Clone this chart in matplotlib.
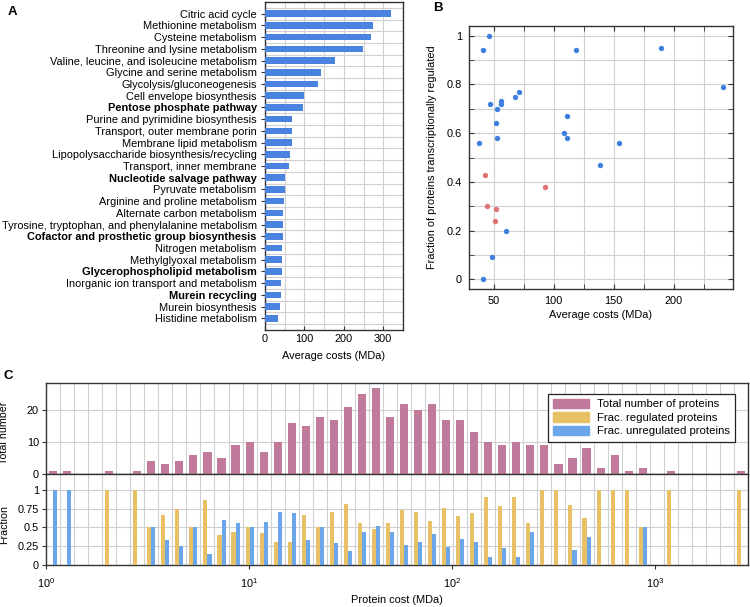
import numpy as np
import matplotlib
matplotlib.use("Agg")
import matplotlib.pyplot as plt
from matplotlib.ticker import FixedLocator, NullFormatter, MultipleLocator
from matplotlib.patches import Patch

plt.rcParams['font.family'] = ['Liberation Sans', 'DejaVu Sans']
plt.rcParams['font.size'] = 7.9

# ---------------- Panel A data ----------------
pathways = [
    "Citric acid cycle", "Methionine metabolism", "Cysteine metabolism",
    "Threonine and lysine metabolism", "Valine, leucine, and isoleucine metabolism",
    "Glycine and serine metabolism", "Glycolysis/gluconeogenesis",
    "Cell envelope biosynthesis", "Pentose phosphate pathway",
    "Purine and pyrimidine biosynthesis", "Transport, outer membrane porin",
    "Membrane lipid metabolism", "Lipopolysaccharide biosynthesis/recycling",
    "Transport, inner membrane", "Nucleotide salvage pathway",
    "Pyruvate metabolism", "Arginine and proline metabolism",
    "Alternate carbon metabolism",
    "Tyrosine, tryptophan, and phenylalanine metabolism",
    "Cofactor and prosthetic group biosynthesis", "Nitrogen metabolism",
    "Methylglyoxal metabolism", "Glycerophospholipid metabolism",
    "Inorganic ion transport and metabolism", "Murein recycling",
    "Murein biosynthesis", "Histidine metabolism",
]
avg_costs = [319, 275, 270, 249, 178, 143, 134, 100, 97, 69.5, 68, 68, 64, 62,
             51, 50, 49, 46.5, 45, 45, 42, 42, 42, 41, 40, 39, 34]
bold_pathways = ["Pentose phosphate pathway", "Nucleotide salvage pathway",
                 "Cofactor and prosthetic group biosynthesis",
                 "Glycerophospholipid metabolism", "Murein recycling"]

# ---------------- Panel B data ----------------
blue_x = [41.1, 45.8, 37.5, 47.0, 52.5, 52.2, 53.0, 56.4, 56.4, 67.5, 71.4,
          108.6, 111.4, 111.4, 118.3, 138.9, 154.4, 189.7, 241.0, 60.0, 48.6, 41.1]
blue_y = [0.94, 1.00, 0.56, 0.72, 0.70, 0.64, 0.58, 0.73, 0.72, 0.75, 0.77,
          0.60, 0.67, 0.58, 0.94, 0.47, 0.56, 0.95, 0.79, 0.20, 0.09, 0.00]
red_x = [42.8, 92.5, 44.2, 52.2, 51.4]
red_y = [0.43, 0.38, 0.30, 0.29, 0.24]

# ---------------- Panel C data ----------------
counts = [1, 1, 0, 0, 1, 0, 1, 4, 3, 4, 6, 7, 5, 9, 10, 7, 10, 16, 15, 18,
          17, 21, 25, 27, 18, 22, 20, 22, 17, 17, 13, 10, 9, 10, 9, 9, 3, 5, 8, 2,
          6, 1, 2, 0, 1, 0, 0, 0, 0, 1]
frac_reg = [0, 0, 0, 0, 1, 0, 1, 0.5, 0.67, 0.75, 0.5, 0.86, 0.4, 0.44, 0.5,
            0.43, 0.3, 0.31, 0.67, 0.5, 0.71, 0.81, 0.56, 0.48, 0.56, 0.73, 0.7,
            0.59, 0.76, 0.65, 0.69, 0.9, 0.78, 0.9, 0.56, 1, 1, 0.8, 0.63, 1,
            1, 1, 0.5, 0, 1, 0, 0, 0, 0, 1]
frac_unreg = [1, 1, 0, 0, 0, 0, 0, 0.5, 0.33, 0.25, 0.5, 0.14, 0.6, 0.56, 0.5,
              0.57, 0.7, 0.69, 0.33, 0.5, 0.29, 0.19, 0.44, 0.52, 0.44, 0.27, 0.3,
              0.41, 0.24, 0.35, 0.31, 0.1, 0.22, 0.1, 0.44, 0, 0, 0.2, 0.37, 0,
              0, 0, 0.5, 0, 0, 0, 0, 0, 0, 0]
cost_min, cost_max = 1.0, 2870.0

W, H = 750, 607
fig = plt.figure(figsize=(W / 100, H / 100), dpi=100)

def rect(l, t, r, b):
    return [l / W, 1 - b / H, (r - l) / W, (b - t) / H]

spine_c = '#333333'
grid_c = '#d0d0d0'

# ================= Panel A =================
axA = fig.add_axes(rect(265, 2, 403, 330))
ypos = np.arange(len(pathways))
axA.barh(ypos, avg_costs, height=0.55, color='#4a82e0', zorder=3)
axA.set_ylim(len(pathways), -1)
axA.set_xlim(0, 350)
axA.set_yticks(ypos)
axA.set_yticklabels(pathways)
for lab in axA.get_yticklabels():
    if lab.get_text() in bold_pathways:
        lab.set_fontweight('bold')
axA.set_xticks([0, 100, 200, 300])
axA.xaxis.set_minor_locator(MultipleLocator(50))
axA.yaxis.set_minor_locator(FixedLocator(np.arange(-0.5, len(pathways), 1.0)))
axA.grid(True, which='minor', axis='both', color=grid_c, lw=0.8, zorder=0)
axA.grid(True, which='major', axis='x', color=grid_c, lw=0.8, zorder=0)
axA.tick_params(axis='y', which='major', direction='out', length=3, pad=3, color=spine_c)
axA.tick_params(axis='y', which='minor', length=0)
axA.tick_params(axis='x', which='major', direction='in', length=3, pad=3, color=spine_c)
axA.tick_params(axis='x', which='minor', length=0)
axA.set_xlabel("Average costs (MDa)", labelpad=5)
for s in axA.spines.values():
    s.set_color(spine_c)
    s.set_linewidth(1.0)
axA.set_axisbelow(True)

# ================= Panel B =================
axB = fig.add_axes(rect(469, 26, 733, 289))
axB.scatter(blue_x, blue_y, s=15, color='#3f7fdf', zorder=3, linewidths=0)
axB.scatter(red_x, red_y, s=15, color='#e07474', zorder=3, linewidths=0)
axB.set_xlim(29.5, 249.5)
axB.set_ylim(-0.04, 1.04)
axB.set_xticks([50, 100, 150, 200])
axB.xaxis.set_minor_locator(MultipleLocator(25))
axB.set_yticks([0, 0.2, 0.4, 0.6, 0.8, 1.0])
axB.set_yticklabels(["0", "0.2", "0.4", "0.6", "0.8", "1"])
axB.yaxis.set_minor_locator(MultipleLocator(0.1))
axB.grid(True, which='both', color=grid_c, lw=0.8, zorder=0)
axB.tick_params(which='both', direction='in', top=True, right=True, color=spine_c)
axB.tick_params(which='major', length=3.5, pad=5)
axB.tick_params(which='minor', length=3.5)
axB.set_xlabel("Average costs (MDa)", labelpad=3)
axB.set_ylabel("Fraction of proteins transcriptionally regulated", labelpad=7)
for s in axB.spines.values():
    s.set_color(spine_c)
    s.set_linewidth(1.0)
axB.set_axisbelow(True)

# ================= Panel C =================
edges = np.logspace(np.log10(cost_min), np.log10(cost_max), len(counts) + 1)
le = np.log10(edges)
centers = 0.5 * (le[:-1] + le[1:])
bw = le[1] - le[0]

axC1 = fig.add_axes(rect(46, 383, 748, 474))
axC2 = fig.add_axes(rect(46, 474, 748, 565), sharex=axC1)

half = 0.29 * bw
l1 = 10 ** (centers - half)
r1 = 10 ** (centers + half)
mid = 10 ** centers
axC1.bar(l1, counts, width=r1 - l1, align='edge', color='#c17a9c', zorder=3)
axC2.bar(l1, frac_reg, width=mid - l1, align='edge', color='#e8c166', zorder=3)
axC2.bar(mid, frac_unreg, width=r1 - mid, align='edge', color='#6aa6e8', zorder=3)

for ax in (axC1, axC2):
    ax.set_xscale('log')
    ax.set_xlim(cost_min, cost_max)
    ax.xaxis.set_minor_locator(FixedLocator(edges))
    ax.xaxis.set_minor_formatter(NullFormatter())
    ax.grid(True, which='minor', axis='x', color=grid_c, lw=0.8, zorder=0)
    ax.grid(True, which='major', axis='y', color=grid_c, lw=0.8, zorder=0)
    ax.tick_params(axis='x', which='minor', length=0)
    ax.tick_params(axis='y', which='major', direction='out', length=3, pad=2, color=spine_c)
    for s in ax.spines.values():
        s.set_color(spine_c)
        s.set_linewidth(1.0)
    ax.set_axisbelow(True)

axC1.set_ylim(0, 28.5)
axC1.set_yticks([0, 10, 20])
axC1.tick_params(axis='x', which='major', length=0, labelbottom=False)
axC1.set_ylabel("Total number", fontsize=7.7)
axC1.yaxis.set_label_coords(-0.052, 0.45)

axC2.set_ylim(0, 1.21)
axC2.set_yticks([0, 0.25, 0.5, 0.75, 1])
axC2.set_yticklabels(["0", "0.25", "0.5", "0.75", "1"])
axC2.set_xticks([1, 10, 100, 1000])
axC2.tick_params(axis='x', which='major', direction='out', length=3, pad=5, color=spine_c)
axC2.set_xlabel("Protein cost (MDa)", labelpad=4)
axC2.set_ylabel("Fraction", fontsize=7.7)
axC2.yaxis.set_label_coords(-0.052, 0.45)

handles = [Patch(color='#c17a9c', label='Total number of proteins'),
           Patch(color='#e8c166', label='Frac. regulated proteins'),
           Patch(color='#6aa6e8', label='Frac. unregulated proteins')]
leg = axC1.legend(handles=handles, loc='upper right', bbox_to_anchor=(0.990, 0.945),
                  fancybox=False, edgecolor='#222222', framealpha=1,
                  handlelength=3.2, handleheight=0.9, borderpad=0.45,
                  labelspacing=0.25, handletextpad=0.7, fontsize=8.2)
leg.get_frame().set_linewidth(0.9)

# panel letters
fig.text(8 / W, 1 - 12 / H, "A", fontsize=9.5, fontweight='bold', va='center', ha='left')
fig.text(433 / W, 1 - 8 / H, "B", fontsize=9.5, fontweight='bold', va='center', ha='left')
fig.text(4 / W, 1 - 376 / H, "C", fontsize=9.5, fontweight='bold', va='center', ha='left')

fig.savefig("out.png", dpi=100)
